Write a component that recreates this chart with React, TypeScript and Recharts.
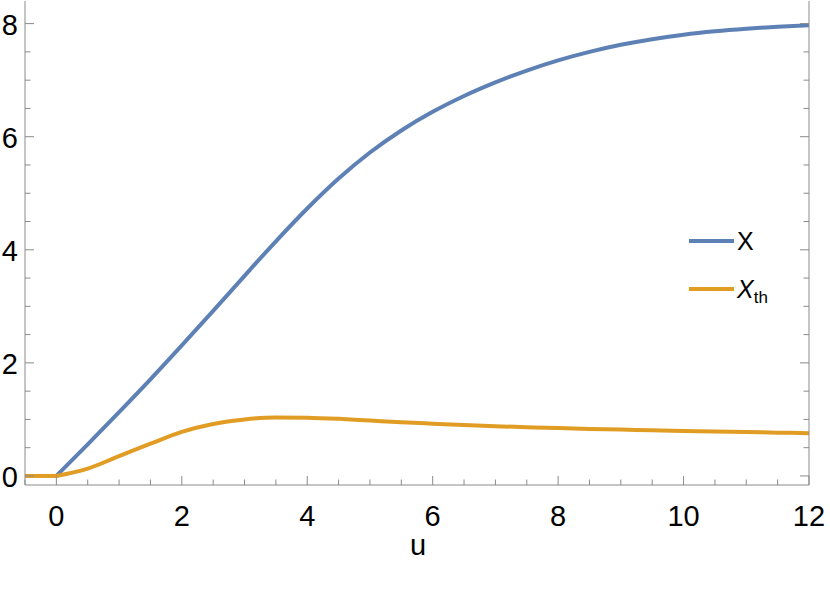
import { LineChart, Line, XAxis, YAxis } from 'recharts'

// values
const U = [-0.5, 0, 0.5, 1, 1.5, 2, 2.5, 3, 3.5, 4, 4.5, 5, 5.5, 6, 6.5, 7, 7.5, 8, 8.5, 9, 9.5, 10, 10.5, 11, 11.5, 12]
// both curves sit at zero for u < 0; they start at u = 0 with a corner
const ZERO_PART = [0, 0, null, null, null, null, null, null, null, null, null, null, null, null, null, null, null, null, null, null, null, null, null, null, null, null]
const X_VALUES = [null, 0, 0.56, 1.13, 1.71, 2.31, 2.92, 3.54, 4.15, 4.73, 5.26, 5.72, 6.11, 6.44, 6.72, 6.96, 7.17, 7.35, 7.5, 7.625, 7.725, 7.805, 7.865, 7.91, 7.945, 7.97]
const XTH_VALUES = [null, 0, 0.13, 0.35, 0.57, 0.78, 0.92, 1.0, 1.035, 1.03, 1.01, 0.98, 0.95, 0.925, 0.9, 0.88, 0.862, 0.846, 0.832, 0.82, 0.807, 0.796, 0.786, 0.776, 0.766, 0.757]

const X_TICKS = [-0.5, 0, 0.5, 1, 1.5, 2, 2.5, 3, 3.5, 4, 4.5, 5, 5.5, 6, 6.5, 7, 7.5, 8, 8.5, 9, 9.5, 10, 10.5, 11, 11.5, 12]
const X_LABELS = [0, 2, 4, 6, 8, 10, 12]
const Y_TICKS = [0, 0.5, 1, 1.5, 2, 2.5, 3, 3.5, 4, 4.5, 5, 5.5, 6, 6.5, 7, 7.5, 8]
const Y_LABELS = [0, 2, 4, 6, 8]

const BLUE = '#5e81b5'
const ORANGE = '#e19c24'
const FRAME = '#8a8a8a'
const FONT = '"Liberation Sans", Arial, sans-serif'

const data = U.map((u, i) => ({ u, zero: ZERO_PART[i], x: X_VALUES[i], xth: XTH_VALUES[i] }))

// tick marks point into the frame, Mathematica style
function makeTick(side: 'bottom' | 'top' | 'left' | 'right', labels: number[]) {
  return (props: any) => {
    const { x, y, payload } = props
    const major = labels.includes(payload.value)
    const len = major ? 9 : 5.5
    let line
    if (side === 'bottom') line = <line x1={x} x2={x} y1={y} y2={y - len} stroke={FRAME} />
    else if (side === 'top') line = <line x1={x} x2={x} y1={y} y2={y + len} stroke={FRAME} />
    else if (side === 'left') line = <line x1={x} x2={x + len} y1={y} y2={y} stroke={FRAME} />
    else line = <line x1={x} x2={x - len} y1={y} y2={y} stroke={FRAME} />
    let label = null
    if (major && side === 'bottom') {
      label = (
        <text x={x} y={y + 41} textAnchor="middle" fontSize={29} fontFamily={FONT} fill="#000">
          {payload.value}
        </text>
      )
    }
    if (major && side === 'left') {
      label = (
        <text x={x - 7} y={y + 11} textAnchor="end" fontSize={29} fontFamily={FONT} fill="#000">
          {payload.value}
        </text>
      )
    }
    return (
      <g>
        {line}
        {label}
      </g>
    )
  }
}

const SERIES = [
  { key: 'x', color: BLUE, name: 'X', sub: '' },
  { key: 'xth', color: ORANGE, name: 'X', sub: 'th' },
]

export default function App() {
  return (
    <div style={{ position: 'absolute', left: 0, top: 0, width: 830, height: 594, background: '#fff' }}>
      <LineChart width={830} height={594} data={data} margin={{ top: 1, right: 0, bottom: 0, left: 0 }}>
        <XAxis
          dataKey="u"
          type="number"
          domain={[-0.5, 12]}
          ticks={X_TICKS}
          interval={0}
          tickSize={0}
          tickMargin={0}
          tickLine={false}
          height={109}
          axisLine={{ stroke: FRAME }}
          tick={makeTick('bottom', X_LABELS)}
          allowDataOverflow
        />
        <XAxis
          xAxisId="top"
          orientation="top"
          dataKey="u"
          type="number"
          domain={[-0.5, 12]}
          ticks={X_TICKS}
          interval={0}
          tickSize={0}
          tickMargin={0}
          tickLine={false}
          height={0}
          axisLine={{ stroke: FRAME }}
          tick={makeTick('top', X_LABELS)}
          allowDataOverflow
        />
        <YAxis
          type="number"
          domain={[-0.16, 8.4]}
          ticks={Y_TICKS}
          interval={0}
          tickSize={0}
          tickMargin={0}
          tickLine={false}
          width={25}
          axisLine={{ stroke: FRAME }}
          tick={makeTick('left', Y_LABELS)}
          allowDataOverflow
        />
        <YAxis
          yAxisId="right"
          orientation="right"
          type="number"
          domain={[-0.16, 8.4]}
          ticks={Y_TICKS}
          interval={0}
          tickSize={0}
          tickMargin={0}
          tickLine={false}
          width={21}
          axisLine={{ stroke: FRAME }}
          tick={makeTick('right', Y_LABELS)}
          allowDataOverflow
        />
        {SERIES.map((s) => (
          <Line
            key={s.key}
            type="monotone"
            dataKey={s.key}
            stroke={s.color}
            strokeWidth={4}
            dot={false}
            isAnimationActive={false}
          />
        ))}
        <Line
          type="linear"
          dataKey="zero"
          stroke={ORANGE}
          strokeWidth={4}
          dot={false}
          isAnimationActive={false}
        />
      </LineChart>
      <div
        style={{
          position: 'absolute',
          left: 410,
          top: 529,
          fontFamily: FONT,
          fontSize: 29,
        }}
      >
        u
      </div>
      <svg style={{ position: 'absolute', left: 680, top: 215 }} width={120} height={100}>
        {SERIES.map((s, i) => (
          <g key={s.key} transform={`translate(0, ${26 + i * 48})`}>
            <line x1={9} x2={54} y1={0} y2={0} stroke={s.color} strokeWidth={4} />
            <text x={57} y={9} fontFamily={FONT} fontSize={25} fontStyle={s.sub ? 'italic' : 'normal'} fill="#000">
              {s.name}
              {s.sub && (
                <tspan fontSize={17} fontStyle="normal" dy={5}>
                  {s.sub}
                </tspan>
              )}
            </text>
          </g>
        ))}
      </svg>
    </div>
  )
}
